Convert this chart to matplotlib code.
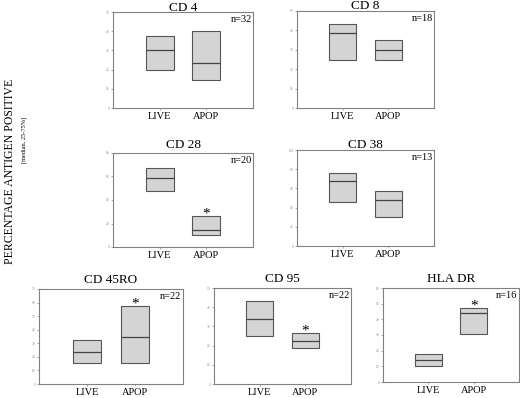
import matplotlib.pyplot as plt

plt.rcParams['font.family'] = ['Liberation Serif', 'DejaVu Serif']

# data: 25th percentile, median, 75th percentile for LIVE and APOP
groups = ["LIVE", "APOP"]
titles = ["CD 4", "CD 8", "CD 28", "CD 38", "CD 45RO", "CD 95", "HLA DR"]
n_values = [32, 18, 20, 13, 22, 22, 16]
q1 = [[19.6, 14.8], [24.7, 24.6], [47.7, 10.5], [45.7, 29.8],
      [15.2, 15.2], [25.0, 18.9], [10.4, 30.9]]
median = [[30.0, 23.3], [38.8, 30.0], [59.0, 14.8], [67.5, 47.4],
          [23.6, 34.9], [34.0, 22.2], [13.8, 44.3]]
q3 = [[37.5, 40.0], [43.1, 35.0], [67.5, 26.0], [76.5, 57.8],
      [32.2, 57.5], [43.0, 26.7], [18.0, 47.0]]
significant = [False, False, True, False, True, True, True]  # star on APOP
y_max = [50, 50, 80, 100, 70, 50, 60]
y_step = [10, 10, 20, 20, 10, 10, 10]

# axes boxes in pixels (left, right, top, bottom) and title gap above axes
W, H = 520, 398
boxes = [(113, 253, 12, 108), (297, 434, 11, 108),
         (113, 253, 153, 247), (297, 434, 150, 246),
         (39, 183, 289, 384), (214, 351, 288, 384),
         (383, 519, 288, 382)]
title_gap = [1, 2, 5, 2, 6, 6, 6]

fig = plt.figure(figsize=(5.2, 3.98), dpi=100)

for i in range(len(titles)):
    l, r, t, b = boxes[i]
    ax = fig.add_axes([l / W, 1 - b / H, (r - l) / W, (b - t) / H])
    x = [1, 2]
    heights = [q3[i][j] - q1[i][j] for j in range(2)]
    ax.bar(x, heights, bottom=q1[i], width=0.6, color='#d4d4d4',
           edgecolor='#555555', linewidth=0.8, zorder=2)
    ax.hlines(median[i], [xx - 0.3 for xx in x], [xx + 0.3 for xx in x],
              color='#444444', linewidth=0.9, zorder=3)
    ax.set_xlim(0, 3)
    ax.set_ylim(0, y_max[i])
    ax.set_yticks(range(0, y_max[i] + 1, y_step[i]))
    ax.set_xticks(x)
    ax.set_xticklabels(groups, fontsize=7.5)
    ax.tick_params(axis='y', labelsize=2.5, length=1.5, width=0.5,
                   colors='#888888', pad=1)
    ax.tick_params(axis='x', length=1.5, width=0.5, color='#888888', pad=1.5)
    for sp in ax.spines.values():
        sp.set_color('#808080')
        sp.set_linewidth(0.8)
    ax.text(0.5, 1 + title_gap[i] / (b - t), titles[i], transform=ax.transAxes,
            ha='center', va='baseline', fontsize=9.5)
    ax.text(0.99, 0.97, f"n={n_values[i]}", transform=ax.transAxes,
            ha='right', va='top', fontsize=7.5)
    if significant[i]:
        ax.annotate("*", xy=(2, q3[i][1]), xytext=(0, -1),
                    textcoords='offset points', ha='center', va='baseline',
                    fontsize=11)

fig.text(10 / W, 1 - 171 / H, "PERCENTAGE ANTIGEN POSITIVE", rotation=90,
         ha='center', va='center', fontsize=8.5)
fig.text(24 / W, 1 - 140 / H, "[median, 25-75%]", rotation=90,
         ha='center', va='center', fontsize=4.5)

fig.savefig("out.png", dpi=100)
